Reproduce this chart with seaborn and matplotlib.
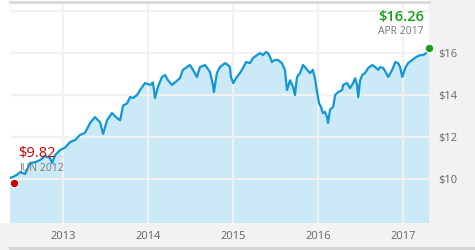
import matplotlib
matplotlib.use("Agg")
import matplotlib.pyplot as plt
from matplotlib.patches import Rectangle
from matplotlib.lines import Line2D
import seaborn as sns
import pandas as pd

# ---- data ----
dates = ["2012-05-17", "2012-05-30", "2012-06-16", "2012-06-29", "2012-07-21", "2012-08-11",
         "2012-09-02", "2012-09-23", "2012-10-15", "2012-11-05", "2012-11-14", "2012-11-27",
         "2012-12-18", "2013-01-09", "2013-01-30", "2013-02-21", "2013-03-14", "2013-04-04",
         "2013-04-26", "2013-05-17", "2013-06-08", "2013-06-21", "2013-07-08", "2013-07-29",
         "2013-08-20", "2013-09-02", "2013-09-15", "2013-10-02", "2013-10-15", "2013-10-28",
         "2013-11-14", "2013-11-27", "2013-12-18", "2014-01-09", "2014-01-21", "2014-01-30",
         "2014-02-12", "2014-03-01", "2014-03-14", "2014-03-27", "2014-04-13", "2014-04-26",
         "2014-05-17", "2014-05-30", "2014-06-16", "2014-06-29", "2014-07-12", "2014-07-29",
         "2014-08-11", "2014-09-02", "2014-09-23", "2014-10-06", "2014-10-10", "2014-10-23",
         "2014-11-05", "2014-11-27", "2014-12-09", "2014-12-18", "2014-12-22", "2015-01-01",
         "2015-01-13", "2015-01-30", "2015-02-12", "2015-02-25", "2015-03-14", "2015-03-27",
         "2015-04-13", "2015-04-26", "2015-05-09", "2015-05-22", "2015-05-30", "2015-06-08",
         "2015-06-16", "2015-06-29", "2015-07-12", "2015-07-29", "2015-08-11", "2015-08-20",
         "2015-09-02", "2015-09-15", "2015-09-23", "2015-10-02", "2015-10-15", "2015-10-28",
         "2015-11-05", "2015-11-14", "2015-11-27", "2015-12-09", "2015-12-18", "2015-12-27",
         "2016-01-05", "2016-01-13", "2016-01-21", "2016-01-30", "2016-02-08", "2016-02-12",
         "2016-02-21", "2016-03-05", "2016-03-14", "2016-03-27", "2016-04-13", "2016-04-17",
         "2016-05-04", "2016-05-17", "2016-05-30", "2016-06-08", "2016-06-16", "2016-06-21",
         "2016-06-29", "2016-07-08", "2016-07-21", "2016-08-03", "2016-08-20", "2016-09-02",
         "2016-09-15", "2016-09-23", "2016-10-06", "2016-10-19", "2016-10-28", "2016-11-14",
         "2016-11-27", "2016-12-09", "2016-12-18", "2016-12-27", "2017-01-09", "2017-01-21",
         "2017-02-08", "2017-02-25", "2017-03-14", "2017-03-27", "2017-04-09", "2017-04-17",
         "2017-04-21"]
prices = [10.05, 10.10, 10.20, 10.33, 10.24, 10.76,
          10.80, 10.90, 11.10, 11.00, 10.76, 11.14,
          11.38, 11.50, 11.76, 11.86, 12.10, 12.20,
          12.67, 12.95, 12.70, 12.15, 12.80, 13.14,
          12.90, 12.80, 13.50, 13.60, 13.90, 13.86,
          14.00, 14.24, 14.57, 14.48, 14.60, 13.86,
          14.40, 14.86, 14.95, 14.70, 14.48, 14.60,
          14.80, 15.20, 15.33, 15.43, 15.20, 14.86,
          15.33, 15.43, 15.10, 14.48, 14.14, 15.05,
          15.33, 15.52, 15.43, 15.33, 14.86, 14.57,
          14.80, 15.05, 15.29, 15.57, 15.52, 15.76,
          15.90, 16.00, 15.90, 16.05, 16.00, 15.81,
          15.57, 15.67, 15.67, 15.52, 15.20, 14.24,
          14.70, 14.40, 14.00, 14.86, 15.05, 15.43,
          15.33, 15.20, 15.05, 15.20, 14.80, 14.14,
          13.60, 13.43, 13.14, 13.20, 12.95, 12.67,
          13.30, 13.43, 14.00, 14.14, 14.24, 14.48,
          14.57, 14.33, 14.57, 14.80, 14.48, 13.90,
          14.70, 14.95, 15.05, 15.29, 15.43, 15.33,
          15.20, 15.33, 15.29, 15.05, 14.86, 15.20,
          15.57, 15.52, 15.33, 14.86, 15.29, 15.52,
          15.67, 15.81, 15.90, 15.90, 16.00, 16.14,
          16.26]

start_label = "JUN 2012"
start_value = 9.82
start_date = "2012-06-03"
end_label = "APR 2017"
end_value = 16.26
year_ticks = ["2013-01-01", "2014-01-01", "2015-01-01", "2016-01-01", "2017-01-01"]
year_labels = ["2013", "2014", "2015", "2016", "2017"]
price_ticks = [10, 12, 14, 16, 18]
price_labels = ["$10", "$12", "$14", "$16", ""]

df = pd.DataFrame({"date": pd.to_datetime(dates), "price": prices})

# ---- styling ----
W, H = 475, 250
fig = plt.figure(figsize=(W / 100, H / 100), dpi=100, facecolor="white")
plt.rcParams["font.family"] = ["Open Sans", "DejaVu Sans"]

# background panels (right and bottom grey areas), drawn beneath the axes
fig.patches.append(Rectangle((429 / W, 0), 1 - 429 / W, 1, transform=fig.transFigure,
                             facecolor="#f2f2f2", edgecolor="none", zorder=-5))
fig.patches.append(Rectangle((0, 0), 1, 1 - 223 / H, transform=fig.transFigure,
                             facecolor="#f2f2f2", edgecolor="none", zorder=-5))
fig.lines.append(Line2D([10 / W, 1], [1 - 248 / H, 1 - 248 / H], transform=fig.transFigure,
                        color="#d6d6d6", lw=2.2, zorder=-4))

ax = fig.add_axes([10 / W, 1 - 223 / H, (429 - 10) / W, (223 - 2) / H])
ax.set_facecolor("white")
ax.set_zorder(1)

line_color = "#1196d6"
fill_color = "#cbe9f7"

ax.fill_between(df["date"], df["price"], 0, color=fill_color, lw=0, zorder=1)
sns.lineplot(data=df, x="date", y="price", ax=ax, color=line_color, lw=1.6, zorder=3)

ax.set_xlim(pd.Timestamp(dates[0]), pd.Timestamp(dates[-1]))
ax.set_ylim(7.905, 18.43)

ax.set_axisbelow("line")
ax.grid(True, color="#f1f1f1", lw=1.6, zorder=2)
ax.set_xticks(pd.to_datetime(year_ticks))
ax.set_xticklabels(year_labels)
ax.set_yticks(price_ticks)
ax.set_yticklabels(price_labels)
ax.yaxis.tick_right()
ax.tick_params(axis="both", length=0, labelsize=8, labelcolor="#666666")
ax.tick_params(axis="x", pad=6)
ax.tick_params(axis="y", pad=7)
ax.set_xlabel("")
ax.set_ylabel("")

for side in ["left", "right", "bottom"]:
    ax.spines[side].set_visible(False)
ax.spines["top"].set_color("#d9d9d9")
ax.spines["top"].set_linewidth(2)

# markers
ax.scatter([pd.Timestamp(start_date)], [start_value], s=38, color="#cc0000",
           edgecolor="white", linewidth=0.8, zorder=5, clip_on=False)
ax.scatter([pd.Timestamp(dates[-1])], [end_value], s=38, color="#1c9a1c",
           edgecolor="white", linewidth=0.8, zorder=5, clip_on=False)

# annotations
fig.text(18 / W, 1 - 153 / H, f"${start_value:.2f}", color="#cc0000", fontsize=10.5,
         ha="left", va="center", zorder=6)
fig.text(20 / W, 1 - 168 / H, start_label, color="#777777", fontsize=7.5,
         ha="left", va="center", zorder=6)
fig.text(424 / W, 1 - 16.5 / H, f"${end_value:.2f}", color="#1c9a1c", fontsize=10.5,
         fontweight="semibold", ha="right", va="center", zorder=6)
fig.text(424 / W, 1 - 32 / H, end_label, color="#777777", fontsize=7.5,
         ha="right", va="center", zorder=6)

fig.savefig("out.png", dpi=100, facecolor=fig.get_facecolor())
